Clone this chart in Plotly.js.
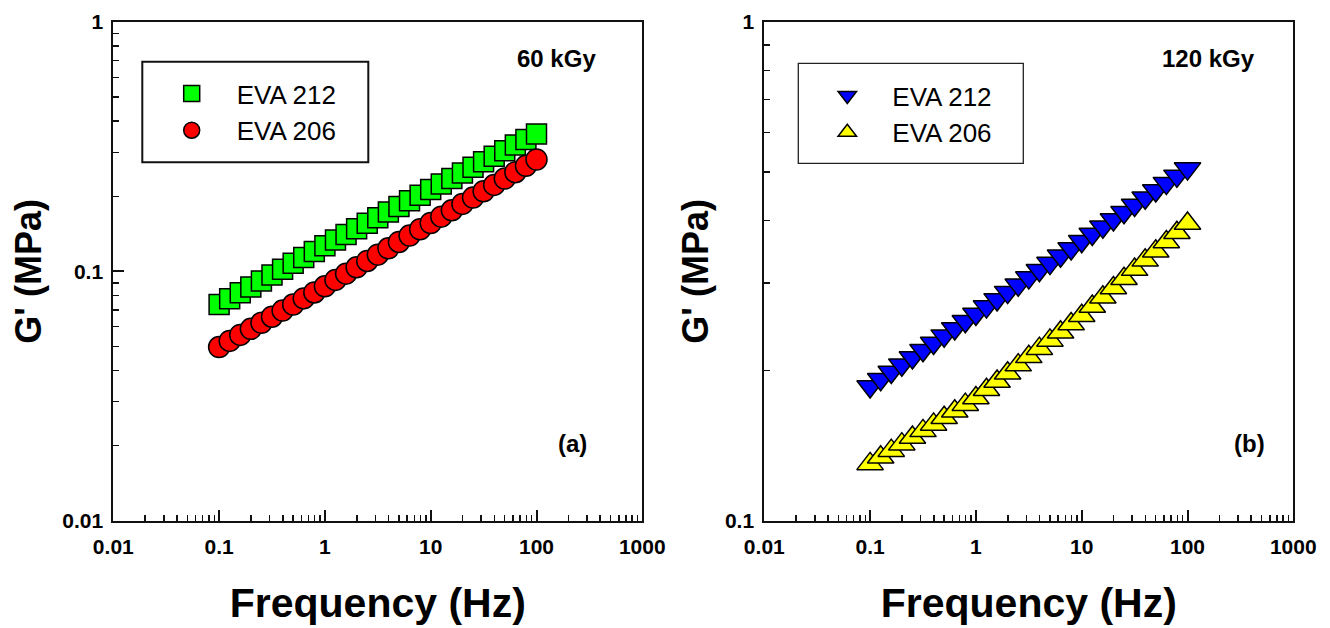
<!DOCTYPE html>
<html>
<head>
<meta charset="utf-8">
<script src="https://cdn.plot.ly/plotly-3.0.1.min.js"></script>
<style>
  html, body { margin: 0; padding: 0; background: #ffffff; }
  #chart { width: 1330px; height: 628px; }
</style>
</head>
<body>
<div id="chart"></div>
<script>
// Frequency sweep (Hz), 10 points per decade
const frequency = [
  0.1, 0.1259, 0.1585, 0.1995, 0.2512, 0.3162, 0.3981, 0.5012, 0.631, 0.7943,
  1, 1.259, 1.585, 1.995, 2.512, 3.162, 3.981, 5.012, 6.31, 7.943,
  10, 12.59, 15.85, 19.95, 25.12, 31.62, 39.81, 50.12, 63.1, 79.43, 100
];

// Storage modulus G' (MPa), 60 kGy
const eva212_60kGy = [
  0.0736, 0.0777, 0.0821, 0.0866, 0.0915, 0.0966, 0.1020, 0.1077, 0.1137, 0.1201,
  0.1268, 0.1335, 0.1406, 0.1481, 0.1560, 0.1642, 0.1730, 0.1822, 0.1919, 0.2021,
  0.2128, 0.2240, 0.2358, 0.2482, 0.2613, 0.2751, 0.2896, 0.3048, 0.3209, 0.3378, 0.3556
];
const eva206_60kGy = [
  0.0497, 0.0526, 0.0556, 0.0588, 0.0622, 0.0658, 0.0696, 0.0736, 0.0779, 0.0823,
  0.0871, 0.0924, 0.0979, 0.1038, 0.1101, 0.1167, 0.1237, 0.1312, 0.1391, 0.1475,
  0.1563, 0.1657, 0.1757, 0.1864, 0.1976, 0.2095, 0.2222, 0.2356, 0.2498, 0.2649, 0.2809
];

// Storage modulus G' (MPa), 120 kGy
const eva212_120kGy = [
  0.1858, 0.1921, 0.1987, 0.2054, 0.2125, 0.2197, 0.2272, 0.2350, 0.2429, 0.2512,
  0.2598, 0.2687, 0.2778, 0.2873, 0.2971, 0.3072, 0.3178, 0.3285, 0.3398, 0.3514,
  0.3633, 0.3757, 0.3886, 0.4018, 0.4155, 0.4297, 0.4443, 0.4595, 0.4752, 0.4914, 0.5082
];
const eva206_120kGy = [
  0.1300, 0.1340, 0.1382, 0.1424, 0.1468, 0.1514, 0.1560, 0.1608, 0.1658, 0.1709,
  0.1762, 0.1830, 0.1901, 0.1975, 0.2051, 0.2131, 0.2213, 0.2299, 0.2388, 0.2480,
  0.2576, 0.2688, 0.2805, 0.2928, 0.3055, 0.3188, 0.3327, 0.3471, 0.3622, 0.3780, 0.3945
];

// Axis tick labels
const freqTicks = [0.01, 0.1, 1, 10, 100, 1000];
const freqTickText = ['0.01', '0.1', '1', '10', '100', '1000'];
const gLeftTicks = [0.01, 0.1, 1];
const gLeftTickText = ['0.01', '0.1', '1'];
const gRightTicks = [0.1, 1];
const gRightTickText = ['0.1', '1'];

// Minor ticks at 2..9 within each decade
function minorTicks(fromExp, toExp) {
  const out = [];
  for (let e = fromExp; e < toExp; e++) {
    for (let m = 2; m <= 9; m++) out.push(m * Math.pow(10, e));
  }
  return out;
}

const FONT = 'Liberation Sans, Arial, Helvetica, sans-serif';
const INK = '#111111';

function marker(symbol, color, size) {
  return { symbol: symbol, size: size, color: color, line: { color: '#000000', width: 1.5 } };
}

const traces = [
  { x: frequency, y: eva212_60kGy, name: 'EVA 212', type: 'scatter', mode: 'markers',
    marker: marker('square', '#00ff00', 20), xaxis: 'x', yaxis: 'y', legend: 'legend' },
  { x: frequency, y: eva206_60kGy, name: 'EVA 206', type: 'scatter', mode: 'markers',
    marker: marker('circle', '#ff0000', 21), xaxis: 'x', yaxis: 'y', legend: 'legend' },
  { x: frequency, y: eva212_120kGy, name: 'EVA 212', type: 'scatter', mode: 'markers',
    marker: marker('triangle-down', '#0000ff', 23), xaxis: 'x2', yaxis: 'y2', legend: 'legend2' },
  { x: frequency, y: eva206_120kGy, name: 'EVA 206', type: 'scatter', mode: 'markers',
    marker: marker('triangle-up', '#ffff00', 23), xaxis: 'x2', yaxis: 'y2', legend: 'legend2' }
];

const tickFont = { family: FONT, size: 21, color: '#000000', weight: 'bold' };

function freqAxis(domain, anchor) {
  return {
    type: 'log', range: [-2, 3], domain: domain, anchor: anchor,
    showline: true, mirror: true, linecolor: INK, linewidth: 2,
    showgrid: false, zeroline: false,
    ticks: 'inside', ticklen: 11, tickwidth: 2, tickcolor: INK,
    tickmode: 'array', tickvals: freqTicks, ticktext: freqTickText,
    tickfont: tickFont,
    ticklabelstandoff: 6,
    minor: { ticks: 'inside', ticklen: 6, tickwidth: 1.5, tickcolor: INK,
             tickmode: 'array', tickvals: minorTicks(-2, 3) },
    title: { text: 'Frequency (Hz)', standoff: 31,
             font: { family: FONT, size: 41, color: '#000000', weight: 'bold' } }
  };
}

function gAxis(domain, anchor, range, vals, text, minorFrom, titleGap) {
  return {
    type: 'log', range: range, domain: domain, anchor: anchor,
    showline: true, mirror: true, linecolor: INK, linewidth: 2,
    showgrid: false, zeroline: false,
    ticks: 'inside', ticklen: 11, tickwidth: 2, tickcolor: INK,
    tickmode: 'array', tickvals: vals, ticktext: text,
    tickfont: tickFont,
    ticklabelstandoff: 4,
    minor: { ticks: 'inside', ticklen: 6, tickwidth: 1.5, tickcolor: INK,
             tickmode: 'array', tickvals: minorTicks(minorFrom, 0) },
    title: { text: "G' (MPa)", standoff: titleGap,
             font: { family: FONT, size: 36, color: '#000000', weight: 'bold' } }
  };
}

const W = 1330, H = 628;
const px = v => v / W;
const py = v => 1 - v / H;

const legendFont = { family: FONT, size: 26, color: '#000000' };

const layout = {
  width: W, height: H,
  margin: { l: 0, r: 0, t: 0, b: 0 },
  paper_bgcolor: '#ffffff', plot_bgcolor: '#ffffff',
  showlegend: true,
  font: { family: FONT },
  xaxis: freqAxis([px(113.3), px(642.3)], 'y'),
  yaxis: gAxis([1 - 520.7 / H, 1 - 22 / H], 'x', [-2, 0], gLeftTicks, gLeftTickText, -2, 10),
  xaxis2: freqAxis([px(764.3), px(1293.3)], 'y2'),
  yaxis2: gAxis([1 - 520.7 / H, 1 - 22 / H], 'x2', [-1, 0], gRightTicks, gRightTickText, -1, 5),
  legend: {
    x: px(146.7), y: py(70), xanchor: 'left', yanchor: 'top',
    bgcolor: 'rgba(0,0,0,0)', borderwidth: 0, itemwidth: 80,
    font: legendFont, tracegroupgap: 0
  },
  legend2: {
    x: px(802.3), y: py(72), xanchor: 'left', yanchor: 'top',
    bgcolor: 'rgba(0,0,0,0)', borderwidth: 0, itemwidth: 80,
    font: legendFont, tracegroupgap: 0
  },
  shapes: [
    { type: 'rect', xref: 'paper', yref: 'paper',
      x0: px(142.3), x1: px(368.3), y0: py(162.3), y1: py(61.7),
      line: { color: INK, width: 2 }, fillcolor: 'rgba(0,0,0,0)', layer: 'above' },
    { type: 'rect', xref: 'paper', yref: 'paper',
      x0: px(798.3), x1: px(1023.3), y0: py(163.3), y1: py(63.3),
      line: { color: '#222222', width: 1.3 }, fillcolor: 'rgba(0,0,0,0)', layer: 'above' }
  ],
  annotations: [
    { text: '60 kGy', xref: 'paper', yref: 'paper', x: px(556), y: py(58.5),
      xanchor: 'center', yanchor: 'middle', showarrow: false,
      font: { family: FONT, size: 24, color: '#000000', weight: 'bold' } },
    { text: '(a)', xref: 'paper', yref: 'paper', x: px(572), y: py(443),
      xanchor: 'center', yanchor: 'middle', showarrow: false,
      font: { family: FONT, size: 24, color: '#000000', weight: 'bold' } },
    { text: '120 kGy', xref: 'paper', yref: 'paper', x: px(1208.5), y: py(58.5),
      xanchor: 'center', yanchor: 'middle', showarrow: false,
      font: { family: FONT, size: 24, color: '#000000', weight: 'bold' } },
    { text: '(b)', xref: 'paper', yref: 'paper', x: px(1249.5), y: py(443),
      xanchor: 'center', yanchor: 'middle', showarrow: false,
      font: { family: FONT, size: 24, color: '#000000', weight: 'bold' } }
  ]
};

Plotly.newPlot('chart', traces, layout, { displayModeBar: false, staticPlot: true });
</script>
</body>
</html>
